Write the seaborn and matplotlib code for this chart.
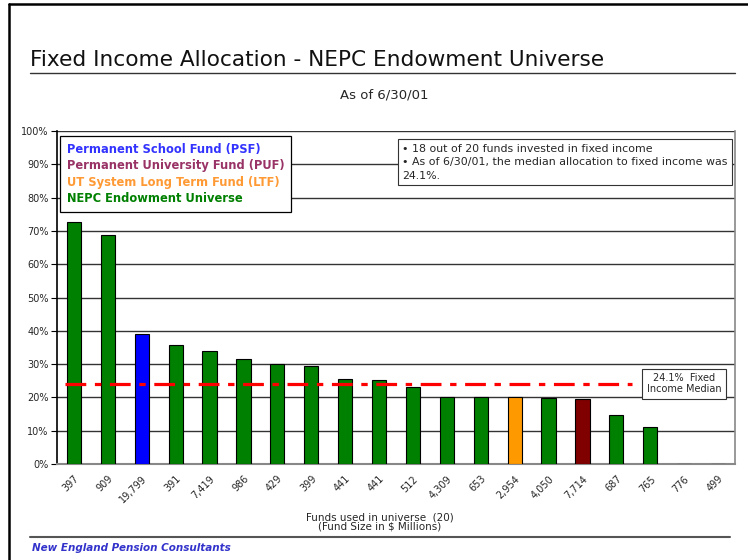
import matplotlib
matplotlib.use("Agg")
import matplotlib.pyplot as plt
import matplotlib.ticker as mticker
from matplotlib.lines import Line2D
import numpy as np
import pandas as pd
import seaborn as sns

# ---- Data ----
fund_sizes = ["397", "909", "19,799", "391", "7,419", "986", "429", "399", "441", "441",
              "512", "4,309", "653", "2,954", "4,050", "7,714", "687", "765", "776", "499"]
fi_alloc = [72.8, 68.7, 39.0, 35.7, 34.0, 31.5, 30.0, 29.4, 25.5, 25.2,
            23.1, 20.0, 20.0, 20.0, 19.8, 19.4, 14.7, 11.0, 0.0, 0.0]
fund_group = ["NEPC", "NEPC", "PSF", "NEPC", "NEPC", "NEPC", "NEPC", "NEPC", "NEPC", "NEPC",
              "NEPC", "NEPC", "NEPC", "LTF", "NEPC", "PUF", "NEPC", "NEPC", "NEPC", "NEPC"]
median_alloc = 24.1

bar_colors = {"NEPC": "#008000", "PSF": "#0000FF", "LTF": "#FF9900", "PUF": "#800000"}
legend_labels = ["Permanent School Fund (PSF)", "Permanent University Fund (PUF)",
                 "UT System Long Term Fund (LTF)", "NEPC Endowment Universe"]
legend_colors = ["#3333FF", "#993366", "#FF9933", "#008000"]

df = pd.DataFrame({"pos": np.arange(len(fund_sizes)), "alloc": fi_alloc, "group": fund_group})

sns.set_theme(style="white")
plt.rcParams["font.family"] = ["DejaVu Sans"]

fig = plt.figure(figsize=(7.48, 5.6), dpi=100)
ax = fig.add_axes([0.0762, 0.1714, 0.9064, 0.5946])

sns.barplot(
    data=df, x="pos", y="alloc", hue="group", palette=bar_colors, saturation=1,
    dodge=False, width=0.42, edgecolor="black", linewidth=0.8,
    legend=False, ax=ax, zorder=3,
)

ax.set_ylim(0, 100)
ax.set_xlim(-0.5, len(fund_sizes) - 0.5)
ax.yaxis.set_major_locator(mticker.MultipleLocator(10))
ax.yaxis.set_major_formatter(mticker.FuncFormatter(lambda v, p: f"{v:.0f}%"))
ax.grid(axis="y", color="#333333", linewidth=1.0, zorder=0)
ax.set_axisbelow(True)
ax.tick_params(axis="y", labelsize=7, length=4, width=0.8, color="black", left=True, pad=2)
ax.tick_params(axis="x", labelsize=7, length=0, pad=7)
ax.set_xticks(range(len(fund_sizes)))
ax.set_xticklabels(fund_sizes, rotation=45, ha="right", rotation_mode="anchor")
ax.set_xlabel("")
ax.set_ylabel("")
ax.spines["top"].set_visible(False)
ax.spines["left"].set_color("black")
ax.spines["left"].set_linewidth(1.2)
ax.spines["right"].set_color("#888888")
ax.spines["right"].set_linewidth(1.2)
ax.spines["bottom"].set_color("#888888")
ax.spines["bottom"].set_linewidth(1.5)

# median line
ax.plot([-0.27, 16.45], [median_alloc, median_alloc], color="#FF0000", linewidth=2.3,
        dashes=(6.5, 2.7, 2, 2.7), zorder=4, dash_capstyle="butt")
ax.text(18.0, median_alloc, f"{median_alloc}%  Fixed\nIncome Median", ha="center", va="center",
        fontsize=7, linespacing=1.1, zorder=5,
        bbox=dict(boxstyle="square,pad=0.5", facecolor="white", edgecolor="#333333", linewidth=0.8))

# legend with coloured text, no handles
handles = [Line2D([], [], linestyle="none") for _ in legend_labels]
leg = ax.legend(handles, legend_labels, loc="upper left", bbox_to_anchor=(0.004, 0.985),
                borderaxespad=0, handlelength=0, handletextpad=0, borderpad=0.6,
                labelspacing=0.3, frameon=True, fancybox=False, edgecolor="black",
                framealpha=1, prop={"size": 8.3, "weight": "bold"})
leg.get_frame().set_linewidth(0.9)
for txt, c in zip(leg.get_texts(), legend_colors):
    txt.set_color(c)
leg.set_zorder(6)

ax.text(0.509, 0.962,
        "\u2022 18 out of 20 funds invested in fixed income\n"
        "\u2022 As of 6/30/01, the median allocation to fixed income was\n24.1%.",
        transform=ax.transAxes, ha="left", va="top", fontsize=7.9, linespacing=1.45, zorder=5,
        bbox=dict(boxstyle="square,pad=0.4", facecolor="white", edgecolor="#333333", linewidth=0.8))

# titles and page decorations
W, H = 748, 560
fig.text(30 / W, 1 - 60 / H, "Fixed Income Allocation - NEPC Endowment Universe",
         ha="left", va="center", fontsize=15.6, color="#111111")
fig.text(384 / W, 1 - 95 / H, "As of 6/30/01", ha="center", va="center", fontsize=9.5)
fig.text(380 / W, 1 - 522 / H, "Funds used in universe  (20)\n(Fund Size in $ Millions)",
         ha="center", va="center", fontsize=7.5, linespacing=0.95)
fig.text(32 / W, 1 - 548 / H, "New England Pension Consultants", ha="left", va="center",
         fontsize=7.5, color="#3333CC", fontweight="bold", style="italic")

fig.add_artist(Line2D([30 / W, 735 / W], [1 - 73 / H] * 2, color="#333333", linewidth=1.0))
fig.add_artist(Line2D([30 / W, 730 / W], [1 - 537 / H] * 2, color="#555555", linewidth=1.5))
fig.add_artist(Line2D([9 / W, 9 / W], [0, 1 - 4 / H], color="black", linewidth=1.8))
fig.add_artist(Line2D([9 / W, 1], [1 - 4 / H] * 2, color="black", linewidth=1.8))

fig.savefig("out.png", dpi=100)
plt.close(fig)
